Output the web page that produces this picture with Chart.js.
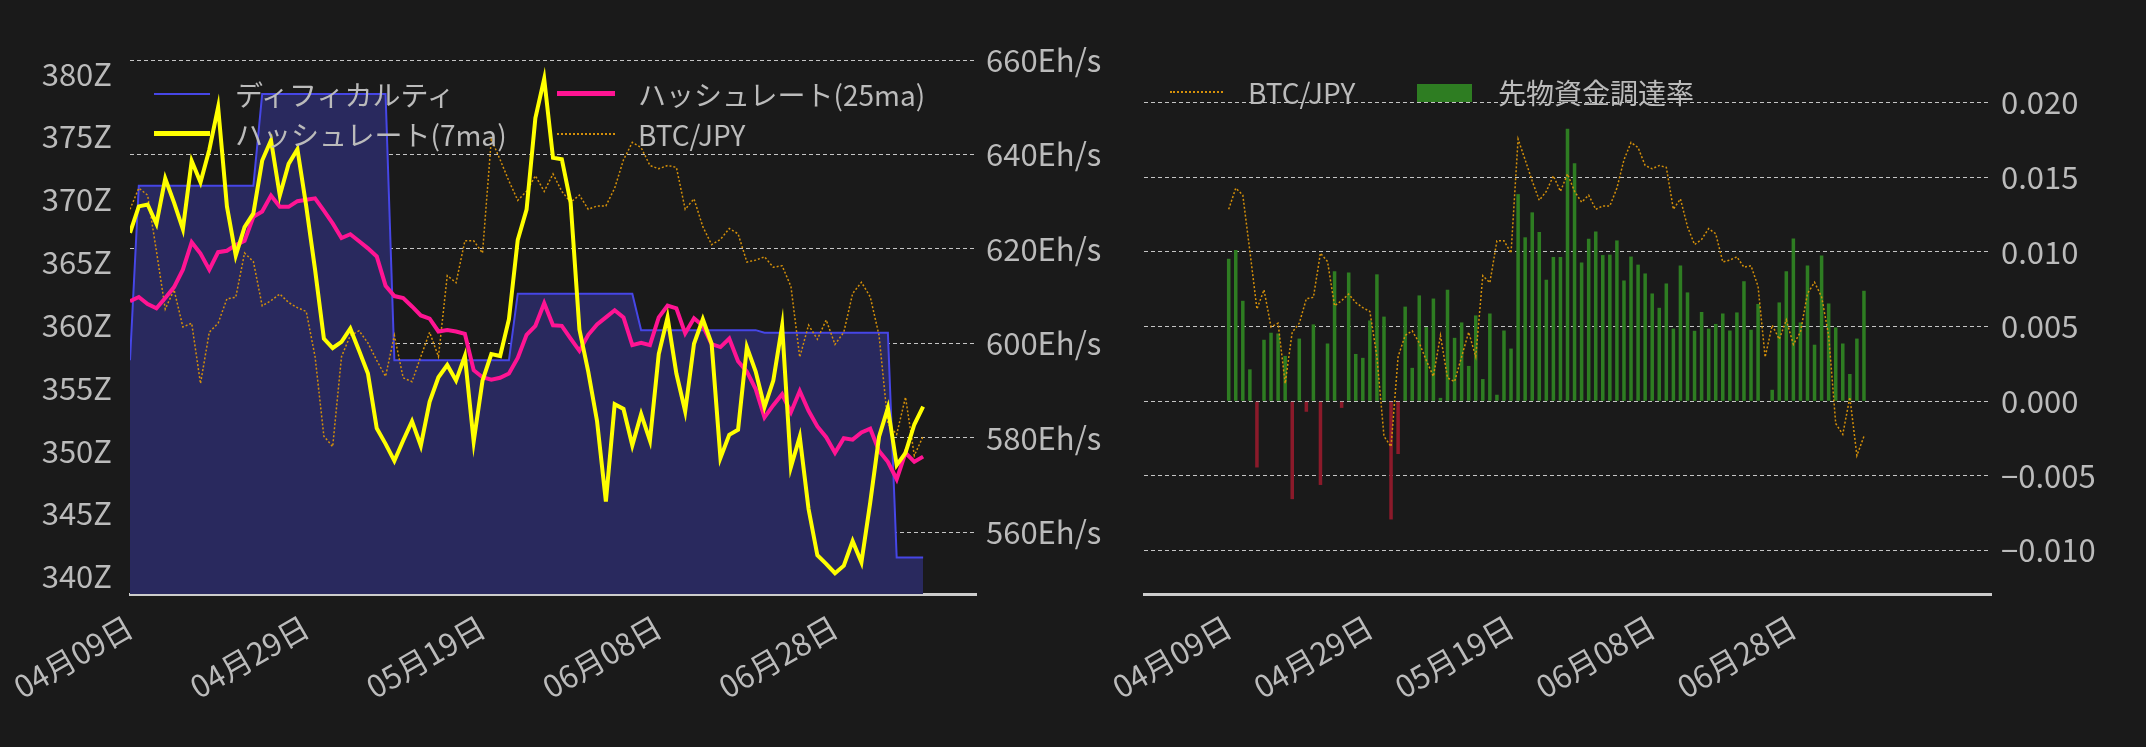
<!DOCTYPE html>
<html>
<head>
<meta charset="utf-8">
<script src="https://cdn.jsdelivr.net/npm/chart.js@4.4.1/dist/chart.umd.min.js"></script>
<style>
  html, body { margin: 0; background: #1a1a1a; width: 2146px; height: 747px; overflow: hidden; }
  .box { position: absolute; top: 0; height: 747px; }
  .legend { position: absolute; color: #bbbbbb; font: 28px "Noto Sans CJK JP", "Noto Sans", sans-serif; white-space: nowrap; }
  .legend span.s { position: absolute; }
</style>
</head>
<body>
<div class="box" style="left:0;width:1110px"><canvas id="left"></canvas></div>
<div class="box" style="left:1075px;width:1071px"><canvas id="right"></canvas></div>

<div class="legend" style="left:154px;top:74px"><span class="s" style="left:0;top:19px;width:56px;border-top:2px solid #4646e6"></span><span style="margin-left:81px">ディフィカルティ</span></div>
<div class="legend" style="left:557px;top:74px"><span class="s" style="left:0;top:17px;width:58px;border-top:5px solid #ff1493"></span><span style="margin-left:81px">ハッシュレート(25ma)</span></div>
<div class="legend" style="left:154px;top:114px"><span class="s" style="left:0;top:17px;width:56px;border-top:5px solid #ffff00"></span><span style="margin-left:81px">ハッシュレート(7ma)</span></div>
<div class="legend" style="left:557px;top:114px"><span class="s" style="left:0;top:19px;width:58px;border-top:2px dotted #d4900a"></span><span style="margin-left:81px">BTC/JPY</span></div>

<div class="legend" style="left:1170px;top:72px"><span class="s" style="left:0;top:19px;width:53px;border-top:2px dotted #d4900a"></span><span style="margin-left:78px">BTC/JPY</span></div>
<div class="legend" style="left:1417px;top:72px"><span class="s" style="left:0;top:12px;width:55px;height:18px;background:#2e7d22"></span><span style="margin-left:81px">先物資金調達率</span></div>

<script>
// x axis: day index from 04/09, tick every 20 days
const tickLabels = ['04月09日', '04月29日', '05月19日', '06月08日', '06月28日'];

// difficulty (Z)
const difficulty = [357.2,
  371.1,371.1,371.1,371.1,371.1,371.1,371.1,371.1,371.1,371.1,371.1,371.1,371.1,371.1,
  378.4,378.4,378.4,378.4,378.4,378.4,378.4,378.4,378.4,378.4,378.4,378.4,378.4,378.4,378.4,
  357.2,357.2,357.2,357.2,357.2,357.2,357.2,357.2,357.2,357.2,357.2,357.2,357.2,357.2,
  362.5,362.5,362.5,362.5,362.5,362.5,362.5,362.5,362.5,362.5,362.5,362.5,362.5,362.5,
  359.6,359.6,359.6,359.6,359.6,359.6,359.6,359.6,359.6,359.6,359.6,359.6,359.6,359.6,
  359.4,359.4,359.4,359.4,359.4,359.4,359.4,359.4,359.4,359.4,359.4,359.4,359.4,359.4,359.4,
  341.5,341.5,341.5,341.5];

// hashrate 7-day MA (Eh/s)
const hash7 = [623.4,629,629.4,625.3,634.9,629.8,624.2,638.6,634.1,641,
  650,629,618.6,624.6,627.5,638.7,643,631.3,638,641.1,
  629,615.6,601,599,600.3,603.1,598.4,593.6,582,578.7,
  575.1,579.4,583.5,578.3,587.6,592.8,595.4,592.1,597.3,579.2,
  592.1,597.7,597.3,605.1,621.9,628.3,647.7,656,639.3,639,
  629.8,602.9,594,583.5,566.5,587.1,586.1,578.4,585,579.4,
  597.7,605.5,593.6,585.6,599.9,605.1,599.9,575.7,580.6,581.7,
  599.2,594,586.5,592.1,603.7,573.8,580.2,564.9,555.1,553.3,
  551.3,552.9,558.1,553.6,566.3,580.2,586.3,574.2,576.8,582.8,586.6];

// hashrate 25-day MA (Eh/s)
const hash25 = [608.9,609.8,608.3,607.4,609.6,611.9,615.6,621.4,619,615.6,
  619.3,619.6,620.8,621.7,626.8,627.9,631.3,628.9,628.9,630.1,
  630.4,630.7,628.1,625.4,622.3,623.1,621.6,620.1,618.4,612.2,
  610,609.6,607.8,605.9,605.2,602.5,602.8,602.5,602,594.3,
  592.8,592.3,592.7,593.6,596.9,601.8,603.7,608.5,603.8,603.7,
  601,598.4,601.8,604,605.5,607,605.5,599.6,600.1,599.6,
  605.5,608,607.4,602.1,605.3,603.7,599.8,599.2,601,596.2,
  594,590.3,584.3,586.9,589.2,585.4,589.9,585.7,582.4,580.1,
  576.8,579.9,579.6,581.1,581.9,577.2,574.9,571.2,576.8,574.9,576];

// BTC/JPY (yen)
const btc = [14415000,14640000,14565000,13970000,13355000,13560000,13165000,13205000,12565000,13110000,
  13205000,13465000,13480000,13950000,13860000,13390000,13445000,13515000,13425000,13370000,
  13330000,12850000,12005000,11895000,12850000,13075000,13125000,12995000,12810000,12640000,
  13075000,12625000,12585000,12850000,13110000,12850000,13710000,13635000,14080000,14080000,
  13950000,15160000,14940000,14715000,14510000,14605000,14770000,14605000,14790000,14605000,
  14490000,14565000,14415000,14450000,14450000,14640000,14940000,15125000,15070000,14880000,
  14845000,14880000,14860000,14415000,14525000,14230000,14040000,14095000,14210000,14155000,
  13855000,13875000,13910000,13800000,13815000,13595000,12845000,13185000,13035000,13240000,
  12980000,13110000,13520000,13640000,13485000,13075000,12140000,12025000,12420000,11800000,12005000];

// futures funding rate
const funding = [0.00954,0.01013,0.00673,0.00214,-0.00443,0.00412,0.00459,0.00454,0.00304,-0.00655,
  0.0042,-0.0007,0.00515,-0.0056,0.00387,0.00871,-0.00044,0.00863,0.00317,0.00291,
  0.00541,0.0085,0.00567,-0.00791,-0.00353,0.00634,0.00224,0.00709,0.00497,0.00688,
  0.00023,0.00747,0.00425,0.00528,0.00237,0.00575,0.00149,0.00588,0.00044,0.00474,
  0.00353,0.01387,0.01098,0.01265,0.01134,0.00814,0.00966,0.00966,0.01825,0.01593,
  0.0093,0.01088,0.01137,0.00979,0.00982,0.01077,0.00809,0.00969,0.00915,0.00856,
  0.00722,0.00626,0.00789,0.00487,0.0091,0.00729,0.00472,0.00598,0.00487,0.00518,
  0.00588,0.00474,0.00595,0.00804,0.00479,0.00652,0,0.00077,0.00662,0.00871,
  0.0109,0.00528,0.0091,0.00379,0.00977,0.00655,0.00495,0.00387,0.00183,0.0042,0.0074];

const pts = arr => arr.map((v, i) => ({ x: i, y: v }));
const FONT = { family: '"Noto Sans CJK JP", "Noto Sans", sans-serif', size: 31 };
const TXT = '#bbbbbb';
Chart.defaults.color = TXT;
Chart.defaults.font = FONT;

const xAxis = {
  type: 'linear', min: 0, max: 96,
  afterBuildTicks: ax => { ax.ticks = [0, 20, 40, 60, 80].map(v => ({ value: v })); },
  afterFit: ax => { ax.height = 153; },
  ticks: { callback: v => tickLabels[v / 20], minRotation: 30, maxRotation: 30, padding: 8, color: TXT, font: FONT },
  grid: { display: false, drawTicks: true, tickLength: 6, tickColor: '#cccccc' },
  border: { color: '#cccccc', width: 3 }
};
const btcAxis = { position: 'left', display: false, min: 10330000, max: 16000000 };
const dotted = { borderColor: '#d4900a', borderWidth: 1.5, borderDash: [2, 2], pointRadius: 0, tension: 0 };
const dashGrid = { color: 'rgba(255,255,255,0.75)', lineWidth: 1, drawTicks: false };

new Chart(document.getElementById('left'), {
  type: 'line',
  data: {
    datasets: [
      { data: pts(difficulty), yAxisID: 'yD', borderColor: '#4646e6', borderWidth: 2, backgroundColor: '#29295e', fill: 'start', pointRadius: 0, order: 4 },
      { data: pts(hash25), yAxisID: 'yH', borderColor: '#ff1493', borderWidth: 4, pointRadius: 0, order: 2 },
      { data: pts(hash7), yAxisID: 'yH', borderColor: '#ffff00', borderWidth: 4, pointRadius: 0, order: 1 },
      Object.assign({ data: pts(btc), yAxisID: 'yB', order: 3 }, dotted)
    ]
  },
  options: {
    responsive: true, maintainAspectRatio: false, animation: false,
    layout: { padding: { top: 60, left: 0, right: 0, bottom: 0 } },
    plugins: { legend: { display: false }, tooltip: { enabled: false } },
    scales: {
      x: xAxis,
      yD: { position: 'left', min: 338.6, max: 381.1,
        afterBuildTicks: ax => { ax.ticks = [340, 345, 350, 355, 360, 365, 370, 375, 380].map(v => ({ value: v })); },
        afterFit: ax => { ax.width = 130; },
        ticks: { callback: v => v + 'Z', padding: 10 }, grid: { display: false }, border: { display: false } },
      yH: { position: 'right', min: 546.9, max: 660,
        afterBuildTicks: ax => { ax.ticks = [560, 580, 600, 620, 640, 660].map(v => ({ value: v })); },
        afterFit: ax => { ax.width = 134; },
        ticks: { callback: v => v + 'Eh/s', padding: 10 },
        grid: dashGrid, border: { display: false, dash: [4, 3] } },
      yB: btcAxis
    }
  }
});

new Chart(document.getElementById('right'), {
  data: {
    datasets: [
      Object.assign({ type: 'line', data: pts(btc), yAxisID: 'yB', order: 1 }, dotted),
      { type: 'bar', data: pts(funding), yAxisID: 'yF', order: 2,
        backgroundColor: funding.map(v => v < 0 ? '#8b1a2a' : '#2e7d22'),
        barPercentage: 0.5, categoryPercentage: 1 }
    ]
  },
  options: {
    responsive: true, maintainAspectRatio: false, animation: false,
    layout: { padding: { top: 60, left: 69, right: 0, bottom: 0 } },
    plugins: { legend: { display: false }, tooltip: { enabled: false } },
    scales: {
      x: xAxis,
      yB: btcAxis,
      yF: { position: 'right', min: -0.0129, max: 0.02285,
        afterBuildTicks: ax => { ax.ticks = [-0.01, -0.005, 0, 0.005, 0.01, 0.015, 0.02].map(v => ({ value: v })); },
        afterFit: ax => { ax.width = 155; },
        ticks: { callback: v => (v < 0 ? '\u2212' : '') + Math.abs(v).toFixed(3), padding: 10 },
        grid: dashGrid, border: { display: false, dash: [4, 3] } }
    }
  }
});
</script>
</body>
</html>
